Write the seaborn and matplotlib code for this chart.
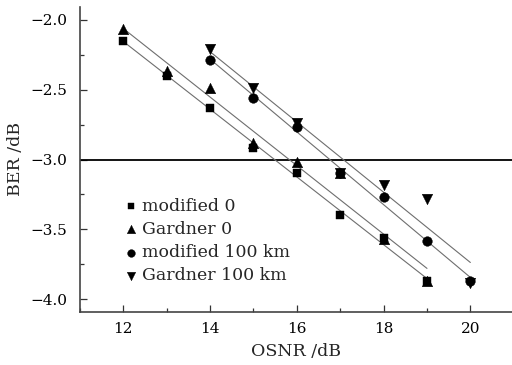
import matplotlib
matplotlib.use("Agg")
import matplotlib.pyplot as plt
import matplotlib.ticker as mticker
import numpy as np
import pandas as pd
import seaborn as sns

# ── Data ─────────────────────────────────────────────────────────────────────
osnr_mod0 = [12, 13, 14, 15, 16, 17, 18, 19]
ber_mod0 = [-2.15, -2.40, -2.63, -2.92, -3.10, -3.40, -3.56, -3.87]

osnr_gard0 = [12, 13, 14, 15, 16, 17, 18, 19]
ber_gard0 = [-2.07, -2.37, -2.49, -2.88, -3.02, -3.10, -3.57, -3.87]

osnr_mod100 = [14, 15, 16, 17, 18, 19, 20]
ber_mod100 = [-2.29, -2.56, -2.77, -3.10, -3.27, -3.58, -3.87]

osnr_gard100 = [14, 15, 16, 17, 18, 19, 20]
ber_gard100 = [-2.21, -2.49, -2.74, -3.10, -3.18, -3.28, -3.88]

threshold = -3.0

series = [
    ("modified 0", osnr_mod0, ber_mod0, "s", 36),
    ("Gardner 0", osnr_gard0, ber_gard0, "^", 58),
    ("modified 100 km", osnr_mod100, ber_mod100, "o", 48),
    ("Gardner 100 km", osnr_gard100, ber_gard100, "v", 58),
]

# ── Style ────────────────────────────────────────────────────────────────────
sns.set_theme(style="ticks")
plt.rcParams["font.family"] = ["DejaVu Serif"]
plt.rcParams["mathtext.fontset"] = "dejavuserif"

fig = plt.figure(figsize=(5.12, 3.65), dpi=100)
ax = fig.add_axes([80 / 512, 1 - 312 / 365, 1 - 80 / 512, 305 / 365])

# fitted lines first, markers on top
for label, x, y, marker, size in series:
    sns.regplot(x=np.array(x, dtype=float), y=np.array(y), ax=ax, ci=None,
                scatter=False, truncate=True,
                line_kws=dict(color="#6e6e6e", lw=0.8, zorder=2))

for label, x, y, marker, size in series:
    df = pd.DataFrame({"osnr": x, "ber": y})
    sns.scatterplot(data=df, x="osnr", y="ber", ax=ax, marker=marker, s=size,
                    color="black", edgecolor="black", linewidth=0.3,
                    label=label, zorder=3)

ax.axhline(threshold, color="black", lw=1.3, zorder=1)

ax.set_xlim(11.0, 20.96)
ax.set_ylim(-4.09, -1.91)
ax.xaxis.set_major_locator(mticker.MultipleLocator(2))
ax.xaxis.set_minor_locator(mticker.MultipleLocator(1))
ax.yaxis.set_major_locator(mticker.MultipleLocator(0.5))
ax.yaxis.set_minor_locator(mticker.MultipleLocator(0.25))
ax.yaxis.set_major_formatter(
    mticker.FuncFormatter(lambda v, _: f"{v:.1f}".replace("-", "\u2212")))
ax.tick_params(which="both", direction="in", colors="#333333", labelcolor="black",
               labelsize=11, width=0.9)
ax.tick_params(which="major", length=5)
ax.tick_params(which="minor", length=3)
ax.tick_params(axis="x", pad=7)
ax.tick_params(axis="y", pad=9)

for side in ("top", "right"):
    ax.spines[side].set_visible(False)
for side in ("left", "bottom"):
    ax.spines[side].set_color("#444444")
    ax.spines[side].set_linewidth(1.2)

ax.set_xlabel("OSNR /dB", fontsize=12.5, labelpad=5)
ax.set_ylabel("BER /dB", fontsize=12.5, labelpad=5)

ax.legend(loc="upper left", bbox_to_anchor=(0.105, 0.375), frameon=False,
          fontsize=12.5, borderpad=0, handlelength=0.6, handletextpad=0.35,
          labelspacing=0.36, markerscale=0.8, borderaxespad=0)

fig.savefig("out.png", dpi=100)
